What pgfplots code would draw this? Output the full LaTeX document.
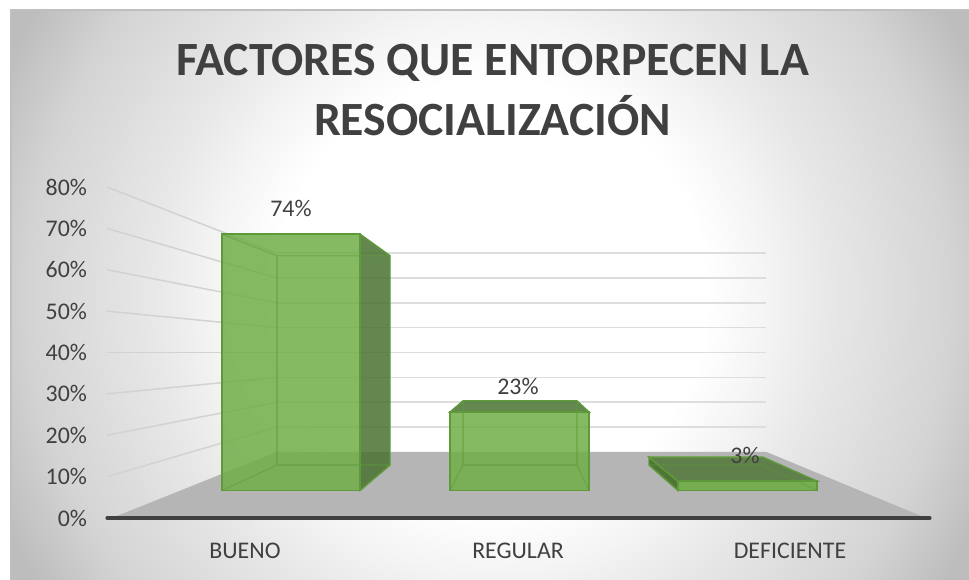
\documentclass[border=0pt]{standalone}
\usepackage{pgfplots}
\pgfplotsset{compat=1.18}
\usepackage{fontspec}
\setmainfont{Carlito}
\definecolor{txt}{HTML}{404040}
\definecolor{gridc}{HTML}{DDDDDD}
\definecolor{gridl}{HTML}{D2D2D2}
\definecolor{flr}{HTML}{B5B5B5}
\definecolor{barf}{HTML}{70AD47}
\definecolor{bard}{HTML}{4A7231}
\definecolor{bare}{HTML}{5E9A3A}
\pgfdeclareradialshading{chartbg}{\pgfpoint{0bp}{0bp}}{
  color(0bp)=(white);
  color(9bp)=(white);
  color(11.4bp)=(white!96!black);
  color(14bp)=(white!91!black);
  color(19.2bp)=(white!83!black);
  color(22.4bp)=(white!74!black);
  color(100bp)=(white!74!black)}
\begin{document}
\begin{tikzpicture}[x=0.75pt,y=-0.75pt]
\useasboundingbox (0,0) rectangle (969,580);
\fill[white] (0,0) rectangle (969,580);
\begin{scope}
\clip (11,10) rectangle (969,580);
\path[shading=chartbg] (-110,-305) rectangle (1090,895);
\end{scope}
\draw[white!75!black,line width=0.8pt] (11,580) -- (11,10) -- (969,10);
\node[font=\fontsize{35.8}{40}\bfseries\selectfont,text=txt,anchor=base] at (492.5,76) {FACTORES QUE ENTORPECEN LA};
\node[font=\fontsize{35.8}{40}\bfseries\selectfont,text=txt,anchor=base] at (492.5,136) {RESOCIALIZACIÓN};
\begin{axis}[
  at={(80.25pt,-388.5pt)},anchor=south west,
  scale only axis,width=617.25pt,height=248.25pt,
  xmin=107,xmax=930,ymin=0,ymax=80,
  clip=false,
  axis line style={draw=none},
  major tick length=0pt,
  xtick={245,518,790},
  xticklabels={BUENO,REGULAR,DEFICIENTE},
  ytick={0,10,20,30,40,50,60,70,80},
  yticklabels={0\%,10\%,20\%,30\%,40\%,50\%,60\%,70\%,80\%},
  tick label style={font=\fontsize{17.9}{20}\selectfont,text=txt},
  xticklabel style={yshift=-15pt},
  yticklabel style={xshift=-11.5pt},
]
% back wall
\addplot[gridc,line width=1.1pt] coordinates {(277,22) (766,22)};
\addplot[gridc,line width=1.1pt] coordinates {(277,28) (766,28)};
\addplot[gridc,line width=1.1pt] coordinates {(277,34) (766,34)};
\addplot[gridc,line width=1.1pt] coordinates {(277,40) (766,40)};
\addplot[gridc,line width=1.1pt] coordinates {(277,46) (766,46)};
\addplot[gridc,line width=1.1pt] coordinates {(277,52) (766,52)};
\addplot[gridc,line width=1.1pt] coordinates {(277,58) (766,58)};
\addplot[gridc,line width=1.1pt] coordinates {(277,64) (766,64)};
% side wall
\addplot[gridl,line width=1.1pt] coordinates {(107,10) (277,22)};
\addplot[gridl,line width=1.1pt] coordinates {(107,20) (277,28)};
\addplot[gridl,line width=1.1pt] coordinates {(107,30) (277,34)};
\addplot[gridl,line width=1.1pt] coordinates {(107,40) (277,40)};
\addplot[gridl,line width=1.1pt] coordinates {(107,50) (277,46)};
\addplot[gridl,line width=1.1pt] coordinates {(107,60) (277,52)};
\addplot[gridl,line width=1.1pt] coordinates {(107,70) (277,58)};
\addplot[gridl,line width=1.1pt] coordinates {(107,80) (277,64)};
% floor
\addplot[fill=flr,draw=none] coordinates {(112,0) (277,16) (766,16) (926,0)} --cycle;
% bar BUENO
\addplot[fill=bard,fill opacity=.85,draw=bare,line width=1.1pt] coordinates {(360,6.65) (360,68.6) (390,63.4) (390,12.8)} --cycle;
\addplot[fill=barf,fill opacity=.85,draw=bare,line width=1.1pt] coordinates {(222,6.65) (222,68.6) (360,68.6) (360,6.65)} --cycle;
\addplot[bare,opacity=.45,line width=.9pt] coordinates {(222,68.6) (277,63.4) (390,63.4)};
\addplot[bare,opacity=.45,line width=.9pt] coordinates {(277,63.4) (277,12.8) (390,12.8)};
\addplot[bare,opacity=.45,line width=.9pt] coordinates {(222,6.65) (277,12.8)};
% bar REGULAR
\addplot[fill=bard,fill opacity=.85,draw=bare,line width=1.1pt] coordinates {(450,25.6) (463,28.3) (577,28.3) (589,25.6)} --cycle;
\addplot[fill=barf,fill opacity=.85,draw=bare,line width=1.1pt] coordinates {(450,6.65) (450,25.6) (589,25.6) (589,6.65)} --cycle;
\addplot[bare,opacity=.45,line width=.9pt] coordinates {(463,28.3) (463,12.8) (577,12.8) (577,28.3)};
\addplot[bare,opacity=.45,line width=.9pt] coordinates {(450,6.65) (463,12.8)};
\addplot[bare,opacity=.45,line width=.9pt] coordinates {(589,6.65) (577,12.8)};
% bar DEFICIENTE
\addplot[fill=bard,fill opacity=.95,draw=bare,line width=1.1pt] coordinates {(649,14.7) (678,8.9) (678,6.65) (649,12.8)} --cycle;
\addplot[fill=bard,fill opacity=.8,draw=bare,line width=1.1pt] coordinates {(649,14.7) (763,14.7) (817,8.9) (678,8.9)} --cycle;
\addplot[fill=barf,fill opacity=.9,draw=bare,line width=1.1pt] coordinates {(678,6.65) (678,8.9) (817,8.9) (817,6.65)} --cycle;
\addplot[bare,opacity=.45,line width=.9pt] coordinates {(649,12.8) (763,12.8) (817,6.65)};
% axis line
\addplot[txt,line width=2.3pt,line cap=round] coordinates {(107,0) (930,0)};
% data labels
\addplot[only marks,mark=none,point meta=explicit symbolic,
  nodes near coords,
  nodes near coords style={anchor=center,font=\fontsize{17.9}{20}\selectfont,text=txt,inner sep=0pt}]
  coordinates {(291,74.7) [74\%] (518,31.7) [23\%] (745,15.2) [3\%]};
\end{axis}
\end{tikzpicture}
\end{document}
